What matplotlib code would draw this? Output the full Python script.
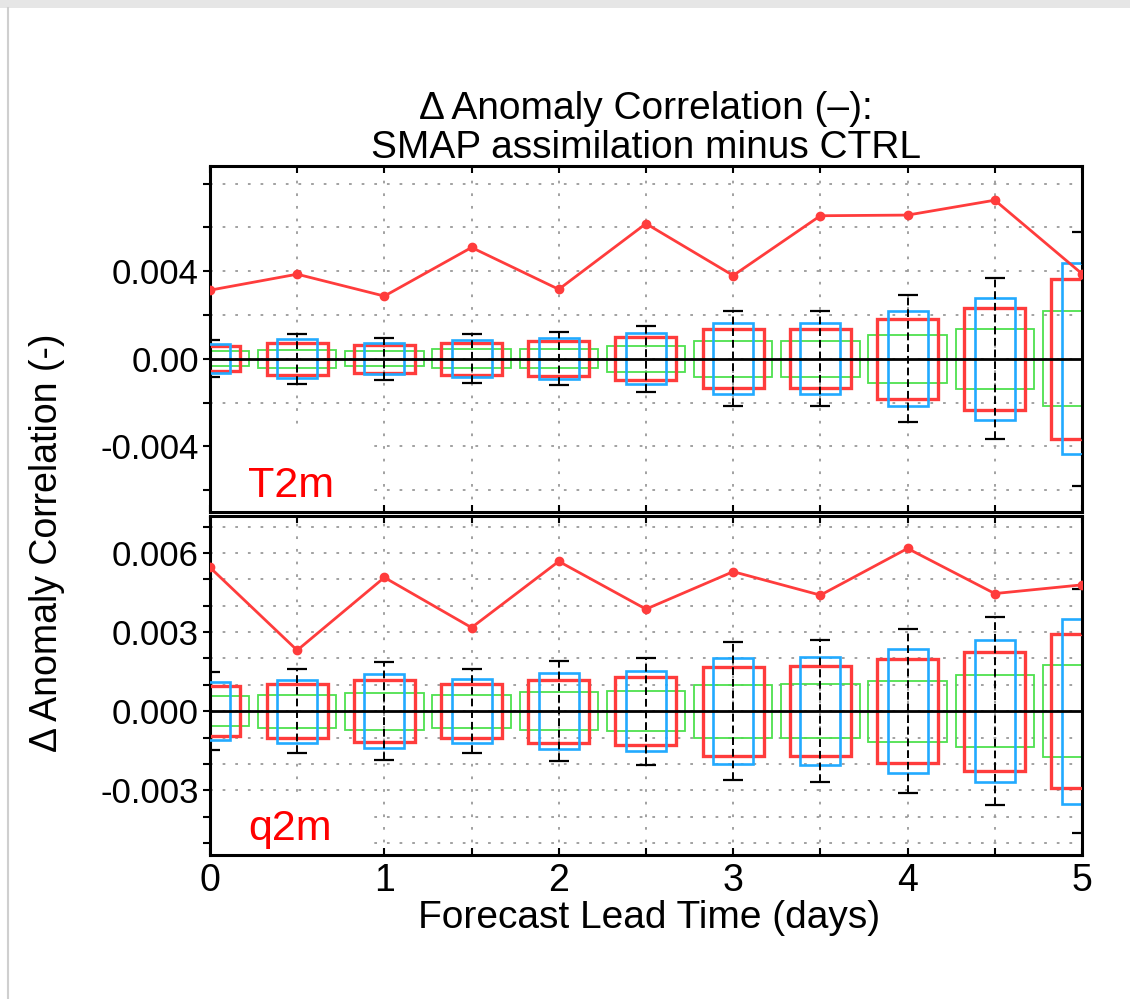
import matplotlib
matplotlib.use("Agg")
import matplotlib.pyplot as plt
from matplotlib.patches import Rectangle
from matplotlib.lines import Line2D

plt.rcParams["font.family"] = ["Liberation Sans", "DejaVu Sans"]

# forecast lead (days)
lead = [0, 0.5, 1, 1.5, 2, 2.5, 3, 3.5, 4, 4.5, 5]

# T2m: mean delta (line) and half-widths of the three boxes + whisker
t2m_delta = [0.00313, 0.00386, 0.00286, 0.00508, 0.00317, 0.00617,
             0.00380, 0.00653, 0.00656, 0.00724, 0.00388]
t2m_red = [0.00056, 0.00073, 0.00063, 0.00073, 0.00079, 0.00099,
           0.00136, 0.00136, 0.00183, 0.00233, 0.00365]
t2m_blue = [0.00065, 0.00088, 0.00072, 0.00085, 0.00093, 0.00116,
            0.00163, 0.00163, 0.00218, 0.00278, 0.00437]
t2m_green = [0.00034, 0.00042, 0.00035, 0.00043, 0.00044, 0.00059,
             0.00082, 0.00082, 0.00110, 0.00138, 0.00218]
t2m_whisk = [0.00084, 0.00114, 0.00095, 0.00112, 0.00121, 0.00151,
             0.00216, 0.00217, 0.00291, 0.00368, 0.00581]

# q2m
q2m_delta = [0.00545, 0.00231, 0.00507, 0.00317, 0.00568, 0.00387,
             0.00529, 0.00440, 0.00617, 0.00446, 0.00479]
q2m_red = [0.00094, 0.00103, 0.00118, 0.00102, 0.00120, 0.00129,
           0.00168, 0.00171, 0.00197, 0.00226, 0.00292]
q2m_blue = [0.00110, 0.00120, 0.00140, 0.00121, 0.00144, 0.00152,
            0.00200, 0.00205, 0.00235, 0.00270, 0.00350]
q2m_green = [0.00056, 0.00062, 0.00070, 0.00062, 0.00072, 0.00076,
             0.00100, 0.00103, 0.00116, 0.00136, 0.00175]
q2m_whisk = [0.00147, 0.00160, 0.00186, 0.00160, 0.00190, 0.00203,
             0.00262, 0.00270, 0.00311, 0.00357, 0.00463]

t2m_ticks = [-0.004, 0.0, 0.004]
t2m_ticklabels = ["-0.004", "0.00", "0.004"]
q2m_ticks = [-0.003, 0.0, 0.003, 0.006]
q2m_ticklabels = ["-0.003", "0.000", "0.003", "0.006"]

RED = "#ff3c3c"
BLUE = "#22aaff"
GREEN = "#4ee04e"


def draw_panel(ax, delta, red, blue, green, whisk, ylim, ticks, ticklabels,
               minor_step, name, mask_top):
    ax.set_axisbelow(True)
    ax.bar(lead, [2 * g for g in green], width=0.45, bottom=[-g for g in green],
           fill=False, edgecolor=GREEN, linewidth=1.3, zorder=2)
    ax.bar(lead, [2 * r for r in red], width=0.35, bottom=[-r for r in red],
           fill=False, edgecolor=RED, linewidth=2.4, zorder=3)
    ax.bar(lead, [2 * b for b in blue], width=0.23, bottom=[-b for b in blue],
           fill=False, edgecolor=BLUE, linewidth=1.9, zorder=3.5)
    ax.axhline(0, color="black", lw=2, zorder=4)
    eb = ax.errorbar(lead, [0] * len(lead), yerr=whisk, fmt="none", ecolor="black",
                     elinewidth=1.4, capsize=7, capthick=1.6, zorder=5)
    eb[2][0].set_linestyle((0, (4, 2)))
    ax.plot(lead, delta, "-o", color=RED, lw=2, ms=6, zorder=6)

    ax.set_xlim(0, 5)
    ax.set_ylim(*ylim)
    ax.set_xticks([0, 1, 2, 3, 4, 5])
    ax.set_xticks([0.5, 1.5, 2.5, 3.5, 4.5], minor=True)
    ax.set_yticks(ticks)
    ax.set_yticklabels(ticklabels)
    n_lo = int(round(ylim[0] / minor_step)) - 1
    n_hi = int(round(ylim[1] / minor_step)) + 1
    ax.set_yticks([k * minor_step for k in range(n_lo, n_hi + 1)
                   if ylim[0] <= k * minor_step <= ylim[1]], minor=True)
    ax.grid(which="both", color="#9a9a9a", linestyle=(0, (1.5, 5.5)), lw=1.3)
    ax.tick_params(axis="y", which="both", direction="out", length=5, width=1.5,
                   labelsize=25, pad=3, right=False)
    ax.tick_params(axis="x", which="both", direction="in", length=5, width=1.5,
                   top=True, labelsize=27, pad=6)
    for s in ax.spines.values():
        s.set_linewidth(2.2)

    ax.add_patch(Rectangle((0, 0), 0.18, mask_top, transform=ax.transAxes,
                           facecolor="white", edgecolor="none", zorder=1))
    ax.text(0.044, 0.044, name, transform=ax.transAxes, color="red",
            fontsize=31, va="baseline", ha="left", zorder=7)


fig = plt.figure(figsize=(11.3, 9.99), dpi=100)
ax_top = fig.add_axes([0.1858, 0.4875, 0.7717, 0.3463])
ax_bot = fig.add_axes([0.1858, 0.1441, 0.7717, 0.3394])

draw_panel(ax_top, t2m_delta, t2m_red, t2m_blue, t2m_green, t2m_whisk,
           (-0.0070, 0.0088), t2m_ticks, t2m_ticklabels, 0.002, "T2m", 0.25)
draw_panel(ax_bot, q2m_delta, q2m_red, q2m_blue, q2m_green, q2m_whisk,
           (-0.00545, 0.0074), q2m_ticks, q2m_ticklabels, 0.001, "q2m", 0.16)
ax_top.tick_params(axis="x", labelbottom=False)

ax_top.set_title("\u0394 Anomaly Correlation (\u2013):\nSMAP assimilation minus CTRL",
                 fontsize=28, pad=4, linespacing=1.12)
fig.text(0.574, 0.081, "Forecast Lead Time (days)", fontsize=28,
         ha="center", va="center")
fig.text(0.042, 0.457, "\u0394 Anomaly Correlation (-)", fontsize=27,
         ha="center", va="center", rotation=90)

# window frame remnants
fig.add_artist(Rectangle((0, 0.992), 1, 0.008, transform=fig.transFigure,
                         facecolor="#e6e6e6", edgecolor="none"))
fig.add_artist(Line2D([0.007, 0.007], [0, 0.992], transform=fig.transFigure,
                      color="#cfcfcf", lw=1.5))

fig.savefig("out.png", dpi=100)
plt.close(fig)
